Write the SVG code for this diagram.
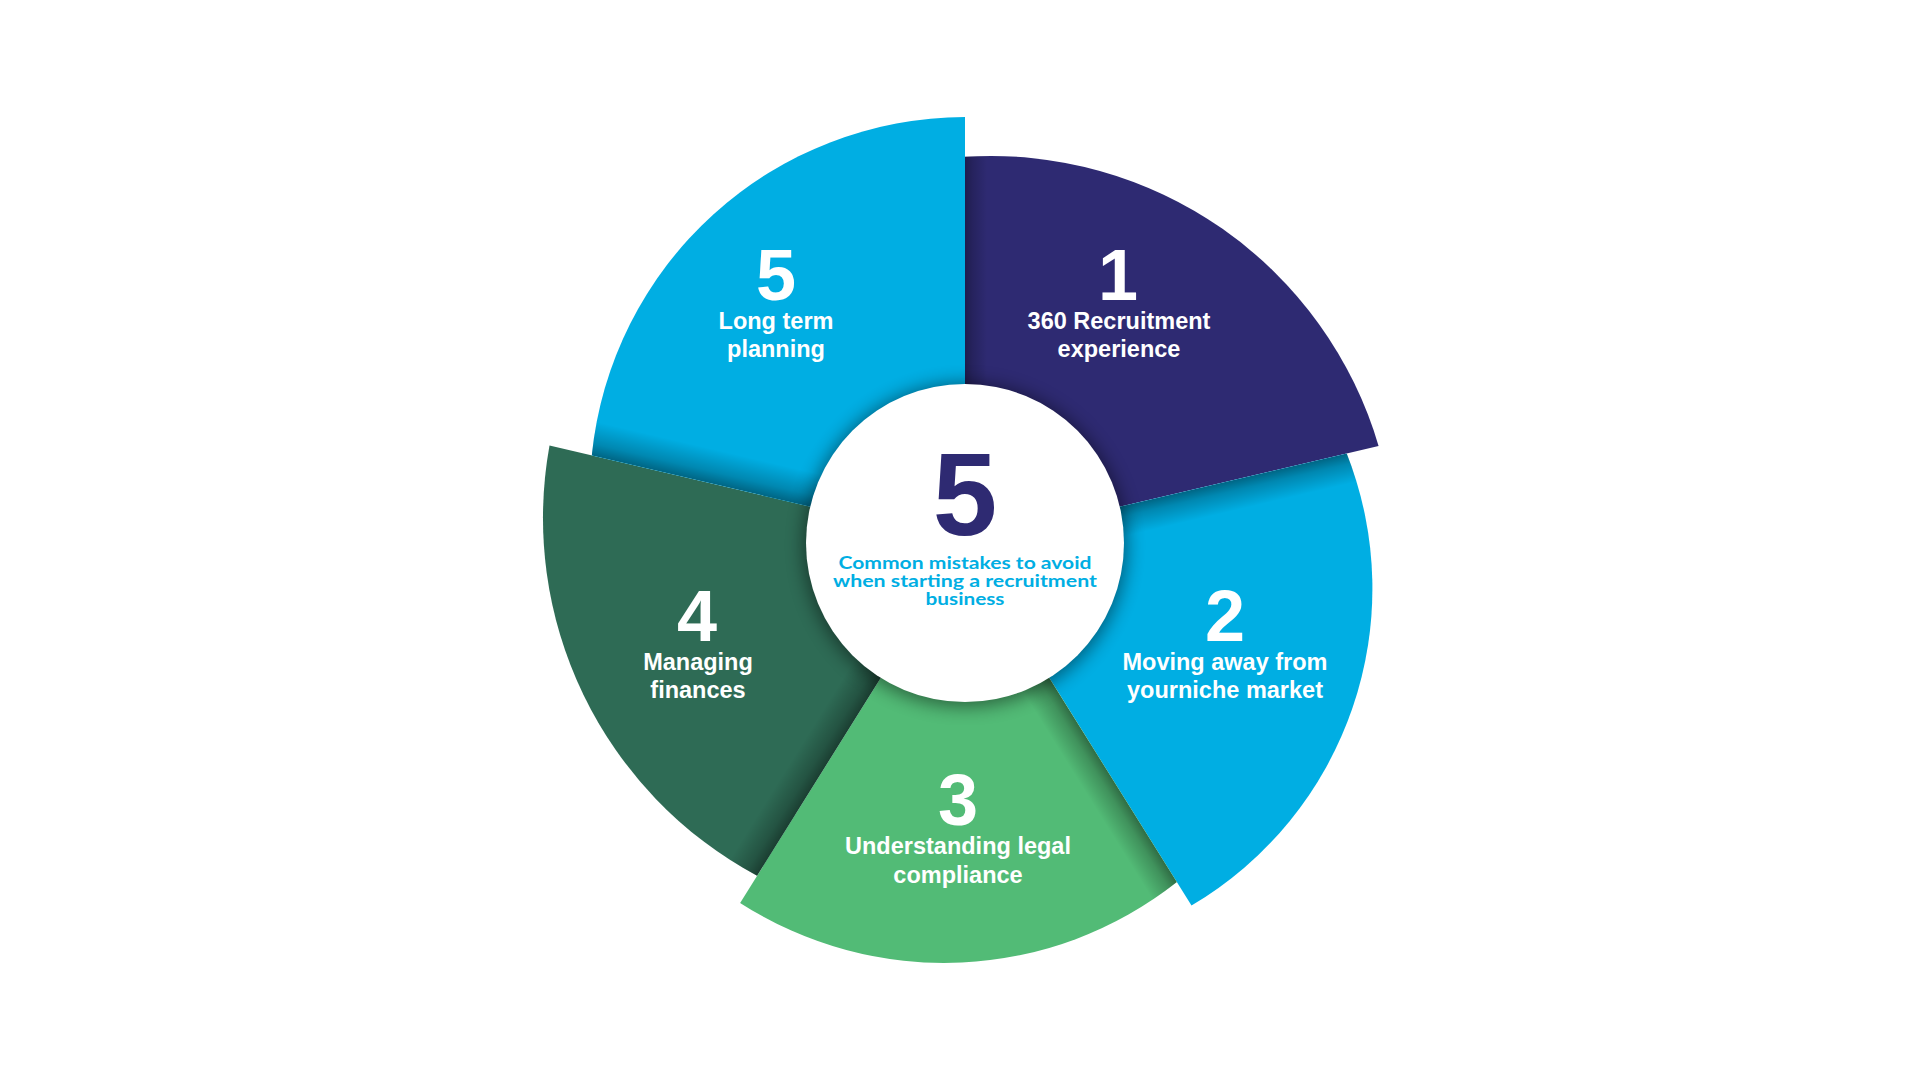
<svg xmlns="http://www.w3.org/2000/svg" width="1920" height="1080" viewBox="0 0 1920 1080">
  <style>
    .num { font-family: "Liberation Sans", Arial, sans-serif; font-weight: 700; font-size: 72px; fill: #ffffff; text-anchor: middle; }
    .lbl { font-family: "Liberation Sans", Arial, sans-serif; font-weight: 700; font-size: 23.5px; fill: #ffffff; text-anchor: middle; }
    .sub { font-family: Lato, "Noto Sans", sans-serif; font-weight: 700; font-size: 16.5px; fill: #00aee3; text-anchor: middle; }
    .big { font-family: "Liberation Sans", Arial, sans-serif; font-weight: 700; font-size: 116px; fill: #2e2a72; text-anchor: middle; }
    .navy { fill: #2e2a72; }
    .sky { fill: #00aee3; }
    .lgreen { fill: #52bb76; }
    .dgreen { fill: #2e6b55; }
  </style>
  <defs>
    <path id="p1" d="M965,543 L965,156.8 A404,404 0 0 1 1378.6,446 Z"/>
    <path id="p2" d="M965,543 L1346.7,453.5 A368,368 0 0 1 1191.5,905.5 Z"/>
    <path id="p3" d="M965,543 L1176.9,882.1 A376,376 0 0 1 740.1,902.9 Z"/>
    <path id="p4" d="M965,543 L757.1,875.8 A406,406 0 0 1 549.5,445.5 Z"/>
    <path id="p5" d="M965,543 L591.8,455.5 A376,376 0 0 1 965,117 Z"/>
    <clipPath id="c1"><use href="#p1"/></clipPath>
    <clipPath id="c2"><use href="#p2"/></clipPath>
    <clipPath id="c3"><use href="#p3"/></clipPath>
    <clipPath id="c4"><use href="#p4"/></clipPath>
    <clipPath id="c5"><use href="#p5"/></clipPath>
    <linearGradient id="sh" x1="0" y1="0" x2="0" y2="1">
      <stop offset="0" stop-color="#000" stop-opacity="0.42"/>
      <stop offset="0.35" stop-color="#000" stop-opacity="0.22"/>
      <stop offset="1" stop-color="#000" stop-opacity="0"/>
    </linearGradient>
    <filter id="blur" x="-30%" y="-30%" width="160%" height="160%">
      <feGaussianBlur stdDeviation="9"/>
    </filter>
  </defs>

  <rect x="0" y="0" width="1920" height="1080" fill="#ffffff"/>

  <g id="seg1">
    <use href="#p1" class="navy"/>
    <g clip-path="url(#c1)"><rect transform="rotate(-90 965 543)" x="965" y="543" width="520" height="22" fill="url(#sh)" opacity="0.8"/></g>
    <text class="num" x="1118" y="300">1</text>
    <text class="lbl" x="1119" y="329">360 Recruitment</text>
    <text class="lbl" x="1119" y="357">experience</text>
  </g>

  <g id="seg2">
    <use href="#p2" class="sky"/>
    <g clip-path="url(#c2)"><rect transform="rotate(-13.2 965 543)" x="965" y="543" width="520" height="30" fill="url(#sh)"/></g>
    <text class="num" x="1225" y="641">2</text>
    <text class="lbl" x="1225" y="670">Moving away from</text>
    <text class="lbl" x="1225" y="698">yourniche market</text>
  </g>

  <g id="seg3">
    <use href="#p3" class="lgreen"/>
    <g clip-path="url(#c3)"><rect transform="rotate(58 965 543)" x="965" y="543" width="520" height="30" fill="url(#sh)"/></g>
    <text class="num" x="958" y="825">3</text>
    <text class="lbl" x="958" y="854">Understanding legal</text>
    <text class="lbl" x="958" y="883">compliance</text>
  </g>

  <g id="seg4">
    <use href="#p4" class="dgreen"/>
    <g clip-path="url(#c4)"><rect transform="rotate(122 965 543)" x="965" y="543" width="520" height="32" fill="url(#sh)"/></g>
    <text class="num" x="697" y="641">4</text>
    <text class="lbl" x="698" y="670">Managing</text>
    <text class="lbl" x="698" y="698">finances</text>
  </g>

  <g id="seg5">
    <use href="#p5" class="sky"/>
    <g clip-path="url(#c5)"><rect transform="rotate(193.2 965 543)" x="965" y="543" width="520" height="34" fill="url(#sh)"/></g>
    <text class="num" x="776" y="300">5</text>
    <text class="lbl" x="776" y="329">Long term</text>
    <text class="lbl" x="776" y="357">planning</text>
  </g>

  <g id="center">
    <circle cx="965" cy="545" r="162" fill="#000" opacity="0.45" filter="url(#blur)"/>
    <circle cx="965" cy="543" r="159" fill="#ffffff"/>
    <text class="big" x="965" y="535">5</text>
    <text class="sub" x="965" y="569" textLength="253" lengthAdjust="spacingAndGlyphs">Common mistakes to avoid</text>
    <text class="sub" x="965" y="587" textLength="264" lengthAdjust="spacingAndGlyphs">when starting a recruitment</text>
    <text class="sub" x="965" y="605" textLength="79" lengthAdjust="spacingAndGlyphs">business</text>
  </g>

  <g id="connectors"/>
</svg>
